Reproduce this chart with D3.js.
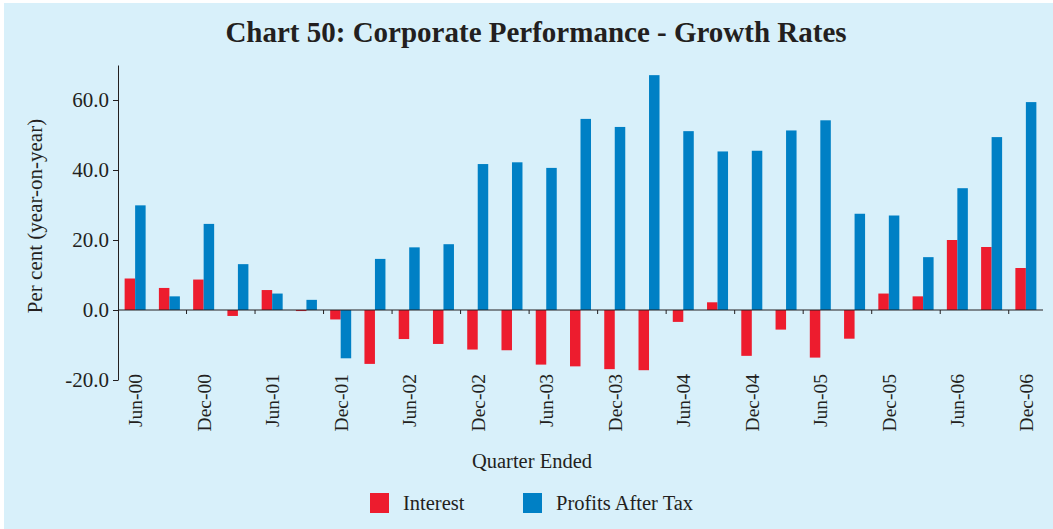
<!DOCTYPE html>
<html>
<head>
<meta charset="utf-8">
<script src="https://cdn.jsdelivr.net/npm/d3@7"></script>
<style>
  body { margin: 0; background: #fff; }
  text { font-family: "Liberation Serif", "Times New Roman", serif; fill: #231f20; }
</style>
</head>
<body>
<script>
// quarters ended
const quarters = ["Jun-00","Sep-00","Dec-00","Mar-01","Jun-01","Sep-01","Dec-01","Mar-02","Jun-02",
  "Sep-02","Dec-02","Mar-03","Jun-03","Sep-03","Dec-03","Mar-04","Jun-04","Sep-04","Dec-04",
  "Mar-05","Jun-05","Sep-05","Dec-05","Mar-06","Jun-06","Sep-06","Dec-06"];

const interest = [9.0, 6.3, 8.7, -1.7, 5.7, -0.3, -2.7, -15.4, -8.3, -9.7, -11.3, -11.5, -15.6, -16.1,
  -16.9, -17.2, -3.4, 2.2, -13.1, -5.6, -13.6, -8.2, 4.7, 3.9, 20.0, 18.0, 12.0];

const profits = [29.9, 3.9, 24.6, 13.1, 4.7, 2.9, -13.8, 14.6, 17.9, 18.8, 41.7, 42.2, 40.6, 54.6,
  52.3, 67.1, 51.1, 45.3, 45.5, 51.3, 54.2, 27.5, 27.0, 15.1, 34.8, 49.4, 59.4];

const seriesNames = ["Interest", "Profits After Tax"];
const seriesColors = ["#ed1c2e", "#0080c5"];
const yTicks = [-20, 0, 20, 40, 60];

function init() {
  const W = 1053, H = 529;
  const left = 118, right = 1043, top = 65, bottom = 380;

  let svg = d3.select("body").append("svg")
    .attr("width", W)
    .attr("height", H);

  svg.append("rect")
    .attr("x", 4).attr("y", 3)
    .attr("width", W - 4).attr("height", H - 3)
    .attr("fill", "#d8f0fa");

  let x = d3.scaleBand().domain(quarters).range([left, right]).padding(0);
  let y = d3.scaleLinear().domain([-20, 70]).range([bottom, top]);

  let bw = x.bandwidth();
  let pair = 21;
  let x1 = d3.scaleBand().domain(seriesNames).range([(bw - pair) / 2, (bw + pair) / 2]);
  let color = d3.scaleOrdinal().domain(seriesNames).range(seriesColors);

  let rows = quarters.map((q, i) => ({ q: q, vals: [interest[i], profits[i]] }));

  // bars
  let groups = svg.selectAll("g.quarter")
    .data(rows)
    .enter()
      .append("g")
        .attr("class", "quarter")
        .attr("transform", d => "translate(" + x(d.q) + ",0)");

  groups.selectAll("rect")
    .data(d => d.vals.map((v, k) => ({ name: seriesNames[k], v: v })))
    .enter()
      .append("rect")
        .attr("x", d => x1(d.name))
        .attr("width", x1.bandwidth())
        .attr("y", d => y(Math.max(0, d.v)))
        .attr("height", d => Math.abs(y(d.v) - y(0)))
        .attr("fill", d => color(d.name));

  // y axis (plain hyphen for negatives, as in the original)
  let fmt = d => d.toFixed(1);
  let yAxis = svg.append("g")
    .attr("transform", "translate(" + left + ",0)")
    .call(d3.axisLeft(y).tickValues(yTicks).tickFormat(fmt).tickSize(5).tickSizeOuter(0).tickPadding(4));
  yAxis.attr("font-family", "Liberation Serif");
  yAxis.select(".domain").attr("stroke", "#231f20");
  yAxis.selectAll(".tick line").attr("stroke", "#231f20");
  yAxis.selectAll(".tick text")
    .attr("font-size", 21)
    .attr("fill", "#231f20");

  // zero line with ticks every two quarters
  let xAxis = svg.append("g")
    .attr("transform", "translate(0," + y(0) + ")");
  xAxis.append("line")
    .attr("x1", left).attr("x2", right)
    .attr("stroke", "#231f20").attr("stroke-width", 1.2);
  xAxis.selectAll("line.tk")
    .data(quarters.filter((q, i) => i % 2 == 0 && i > 0))
    .enter()
      .append("line")
        .attr("class", "tk")
        .attr("x1", d => x(d)).attr("x2", d => x(d))
        .attr("y1", 0).attr("y2", 4)
        .attr("stroke", "#231f20");

  // category labels
  svg.selectAll("text.xlab")
    .data(quarters.filter((q, i) => i % 2 == 0))
    .enter()
      .append("text")
        .attr("class", "xlab")
        .attr("transform", d => "translate(" + (x(d) + bw / 2 + 7) + ",374) rotate(-90)")
        .attr("text-anchor", "end")
        .attr("font-size", 19.5)
        .text(d => d);

  // title
  svg.append("text")
    .attr("x", 536).attr("y", 42)
    .attr("text-anchor", "middle")
    .attr("font-size", 29)
    .attr("font-weight", "bold")
    .text("Chart 50: Corporate Performance - Growth Rates");

  // axis titles
  svg.append("text")
    .attr("transform", "translate(42,216) rotate(-90)")
    .attr("text-anchor", "middle")
    .attr("font-size", 21)
    .text("Per cent (year-on-year)");

  svg.append("text")
    .attr("x", 532).attr("y", 468)
    .attr("text-anchor", "middle")
    .attr("font-size", 20.5)
    .text("Quarter Ended");

  // legend
  let legendX = [370, 523];
  let legend = svg.selectAll("g.legend")
    .data(seriesNames)
    .enter()
      .append("g")
        .attr("class", "legend")
        .attr("transform", (d, i) => "translate(" + legendX[i] + ",493)");
  legend.append("rect")
    .attr("width", 19).attr("height", 20)
    .attr("fill", d => color(d));
  legend.append("text")
    .attr("x", 33).attr("y", 17)
    .attr("font-size", 20.5)
    .text(d => d);
}

init();
</script>
</body>
</html>
